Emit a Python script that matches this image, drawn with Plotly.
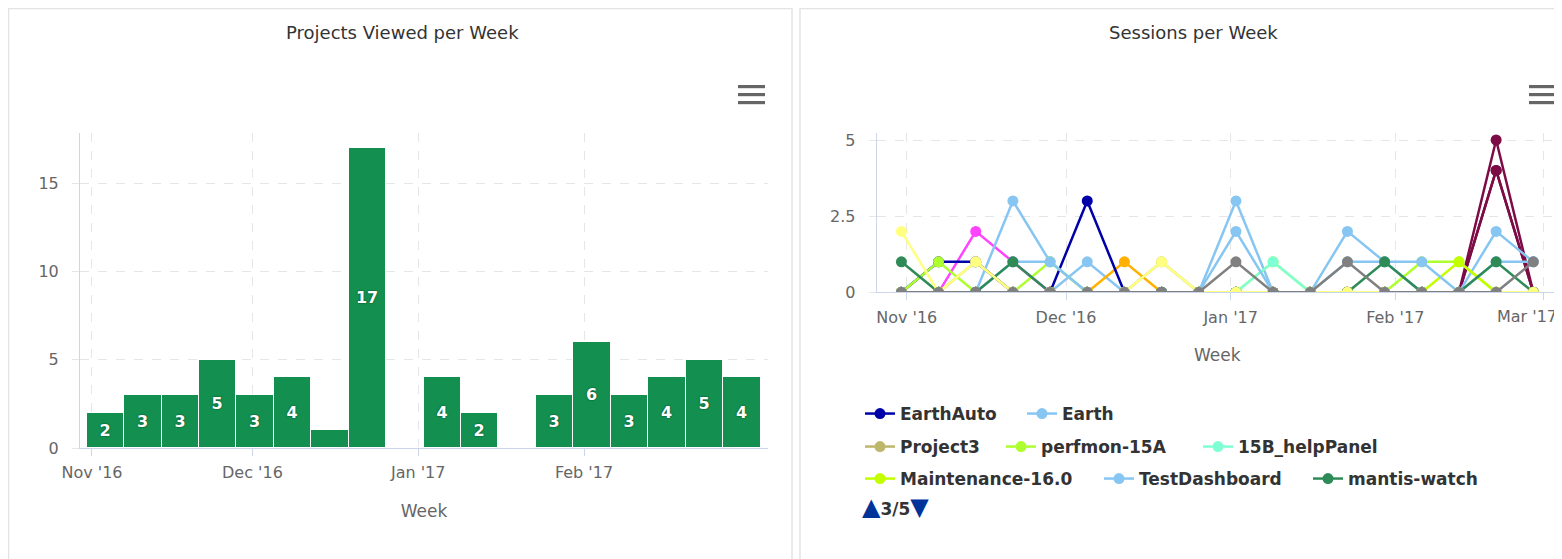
import plotly.graph_objects as go

W, H = 1562, 559
OFF = 8  # the page body margin shifts the figure by 8px
FW, FH = W - OFF, H - OFF
FONT = "DejaVu Sans"

# weekly buckets (week starting Monday)
weeks = ["2016-10-31", "2016-11-07", "2016-11-14", "2016-11-21", "2016-11-28",
         "2016-12-05", "2016-12-12", "2016-12-19", "2016-12-26", "2017-01-02",
         "2017-01-09", "2017-01-16", "2017-01-23", "2017-01-30", "2017-02-06",
         "2017-02-13", "2017-02-20", "2017-02-27"]
month_ticks_left = ["2016-11-01", "2016-12-01", "2017-01-01", "2017-02-01"]
month_ticks_right = ["2016-11-01", "2016-12-01", "2017-01-01", "2017-02-01", "2017-03-01"]
month_labels_right = ["Nov '16", "Dec '16", "Jan '17", "Feb '17", ""]
last_month_label = "Mar '17"  # pulled inside the chart edge, like the original

projects_viewed = [2, 3, 3, 5, 3, 4, 1, 17, 0, 4, 2, 0, 3, 6, 3, 4, 5, 4]

# sessions per week, series shown on legend page 3/5
earth_auto = [0, 1, 1, 0, 0, 3, 0, 0, 0, 0, 0, 0, 0, 0, 0, 0, 0, 0]
earth = [0, 0, 0, 3, 1, 0, 0, 0, 0, 3, 0, 0, 2, 1, 0, 0, 2, 1]
project3 = [0, 0, 1, 0, 0, 0, 0, 1, 0, 0, 0, 0, 0, 0, 0, 0, 0, 0]
perfmon_15a = [0, 1, 0, 0, 1, 0, 0, 0, 0, 0, 1, 0, 0, 0, 1, 1, 0, 0]
help_panel_15b = [0, 0, 0, 0, 0, 0, 0, 0, 0, 0, 1, 0, 0, 0, 0, 0, 0, 0]
maintenance_16 = [0, 0, 0, 0, 0, 0, 0, 0, 0, 0, 0, 0, 0, 0, 0, 1, 0, 0]
test_dashboard = [0, 0, 0, 1, 1, 0, 0, 0, 0, 2, 0, 0, 1, 1, 1, 0, 1, 1]
mantis_watch = [1, 0, 0, 1, 0, 0, 0, 0, 0, 0, 0, 0, 0, 1, 0, 0, 1, 0]

# series from the other legend pages (names not visible)
other_sky = [0, 0, 0, 0, 0, 1, 0, 0, 0, 0, 0, 0, 0, 0, 0, 0, 0, 0]
other_magenta = [0, 0, 2, 1, 0, 0, 0, 0, 0, 0, 0, 0, 0, 0, 0, 0, 0, 0]
other_orange = [0, 0, 0, 0, 0, 0, 1, 0, 0, 0, 0, 0, 0, 0, 0, 0, 0, 0]
other_maroon_a = [0, 0, 0, 0, 0, 0, 0, 0, 0, 0, 0, 0, 0, 0, 0, 0, 4, 0]
other_maroon_b = [0, 0, 0, 0, 0, 0, 0, 0, 0, 0, 0, 0, 0, 0, 0, 0, 4, 0]
other_maroon_c = [0, 0, 0, 0, 0, 0, 0, 0, 0, 0, 0, 0, 0, 0, 0, 0, 5, 0]
other_yellow = [2, 0, 1, 0, 0, 0, 0, 1, 0, 0, 0, 0, 0, 0, 0, 0, 0, 0]
other_gray = [0, 0, 0, 0, 0, 0, 0, 0, 0, 1, 0, 0, 1, 0, 0, 0, 0, 1]


def px(x):
    return (x - OFF) / FW


def py(y):
    return 1 - (y - OFF) / FH


fig = go.Figure()

fig.add_trace(go.Bar(
    x=weeks, y=projects_viewed, xaxis="x", yaxis="y",
    xperiod=7 * 24 * 3600 * 1000, xperiodalignment="middle", xperiod0="2016-10-31",
    marker=dict(color="#13904f", line=dict(color="white", width=1)),
    texttemplate="%{y}", textposition="inside", insidetextanchor="middle",
    textangle=0,
    textfont=dict(family=FONT, size=16, color="white", weight="bold",
                  shadow="0px 0px 2px rgba(0,0,0,0.6)"),
    showlegend=False,
))

# (values, colour, legend name, legend id)
lines = [
    (other_sky, "#87c6f2", None, None),
    (other_magenta, "#ff44ff", None, None),
    (other_orange, "#ffb000", None, None),
    (other_maroon_a, "#7d0b45", None, None),
    (other_maroon_b, "#7d0b45", None, None),
    (other_maroon_c, "#7d0b45", None, None),
    (earth_auto, "#0000a8", "EarthAuto", "legend"),
    (earth, "#87c6f2", "Earth", "legend2"),
    (project3, "#bdb76b", "Project3", "legend3"),
    (perfmon_15a, "#adff2f", "perfmon-15A", "legend4"),
    (help_panel_15b, "#7fffd4", "15B_helpPanel", "legend5"),
    (maintenance_16, "#c4ff00", "Maintenance-16.0", "legend6"),
    (test_dashboard, "#87c6f2", "TestDashboard", "legend7"),
    (mantis_watch, "#2e8b57", "mantis-watch", "legend8"),
    (other_yellow, "#ffff80", None, None),
    (other_gray, "#808080", None, None),
]

for values, color, name, legend in lines:
    fig.add_trace(go.Scatter(
        x=weeks, y=values, xaxis="x2", yaxis="y2", mode="lines+markers",
        line=dict(color=color, width=2.5),
        marker=dict(color=color, size=11),
        name=name or "",
        legend=legend or "legend",
        showlegend=name is not None,
    ))

axis_common = dict(
    showgrid=True, gridcolor="#e6e6e6", griddash="dash", gridwidth=1,
    showline=True, linecolor="#ccd6eb", linewidth=1,
    ticks="outside", ticklen=7, tickcolor="#ccd6eb",
    tickfont=dict(family=FONT, size=16, color="#666666"),
    zeroline=False, fixedrange=True, automargin=False,
)

x_common = dict(
    axis_common, type="date", tickformat="%b '%y", ticklabelstandoff=3,
    title=dict(text="Week", font=dict(family=FONT, size=17, color="#666666"), standoff=23),
)
y_common = dict(axis_common, ticklabelstandoff=10, tickcolor="#e6e6e6")

legend_font = dict(family=FONT, size=17, color="#333333", weight="bold")

# legend items: symbol left edge and row centre, in page pixels
legend_spots = {
    "legend": (865, 414), "legend2": (1027, 414),
    "legend3": (865, 447), "legend4": (1006, 447), "legend5": (1203, 447),
    "legend6": (865, 479), "legend7": (1104, 479), "legend8": (1313, 479),
}
legends = {
    key: dict(orientation="h", xanchor="left", yanchor="middle",
              x=px(sx - 5), y=py(sy), font=legend_font,
              bgcolor="rgba(0,0,0,0)")
    for key, (sx, sy) in legend_spots.items()
}

shapes = [
    dict(type="rect", xref="paper", yref="paper", x0=px(8.5), x1=px(792), y0=py(8.5), y1=-0.05,
         line=dict(color="#e3e3e3", width=1.5), layer="below"),
    dict(type="rect", xref="paper", yref="paper", x0=px(800), x1=1.05, y0=py(8.5), y1=-0.05,
         line=dict(color="#e3e3e3", width=1.5), layer="below"),
]
for left in (738, 1529):
    for top in (85, 93, 101):
        shapes.append(dict(type="rect", xref="paper", yref="paper",
                           x0=px(left), x1=px(left + 27), y0=py(top), y1=py(top + 3.2),
                           fillcolor="#666666", line=dict(width=0)))

annotations = [
    dict(text="Projects Viewed per Week", x=px(402), y=py(32), xref="paper", yref="paper",
         xanchor="center", yanchor="middle", showarrow=False,
         font=dict(family=FONT, size=18, color="#333333")),
    dict(text="Sessions per Week", x=px(1193), y=py(32), xref="paper", yref="paper",
         xanchor="center", yanchor="middle", showarrow=False,
         font=dict(family=FONT, size=18, color="#333333")),
    dict(text=last_month_label, x=month_ticks_right[-1], xref="x2", xanchor="center", xshift=-17,
         y=py(316.5), yref="paper", yanchor="middle", showarrow=False,
         font=dict(family=FONT, size=16, color="#666666")),
    dict(text='<span style="color:#003399;font-size:24px">▲</span>3/5'
              '<span style="color:#003399;font-size:24px">▼</span>',
         x=px(860), y=py(507), xref="paper", yref="paper", xanchor="left", yanchor="middle",
         showarrow=False, font=dict(family=FONT, size=17, color="#333333", weight="bold")),
]

fig.update_layout(
    width=FW, height=FH, margin=dict(l=0, r=0, t=0, b=0),
    paper_bgcolor="white", plot_bgcolor="white",
    bargap=0,
    uniformtext=dict(minsize=16, mode="hide"),
    xaxis=dict(x_common, domain=[px(80), px(768)], tickvals=month_ticks_left,
               range=["2016-10-29 18:15", "2017-03-07 09:40"], anchor="y"),
    yaxis=dict(y_common, domain=[py(448), py(133)], range=[0, 17.83], dtick=5, anchor="x"),
    xaxis2=dict(x_common, domain=[px(876.7), px(1558)], tickvals=month_ticks_right,
                ticktext=month_labels_right,
                range=["2016-10-26 08:25", "2017-03-03 15:35"], anchor="y2"),
    yaxis2=dict(y_common, domain=[py(292.3), py(133)], range=[0, 5.23], dtick=2.5, anchor="x2"),
    shapes=shapes,
    annotations=annotations,
    hovermode=False,
    **legends,
)

fig.write_html("out.html")
